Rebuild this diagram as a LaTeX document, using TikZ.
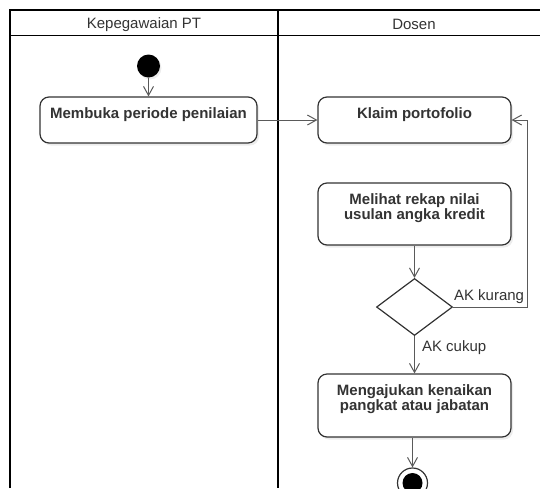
\documentclass[tikz,border=0pt]{standalone}
\usepackage{fontspec}
\setmainfont{Liberation Sans}
\usetikzlibrary{arrows.meta,shapes.geometric,shadows}
\definecolor{ink}{HTML}{333333}
\definecolor{wire}{HTML}{5A5A5A}
\tikzstyle{lane}=[draw=black,line width=1.8pt]
\tikzstyle{lanehead}=[text=ink,inner sep=0pt]
\tikzstyle{activity}=[draw=ink,line width=1.2pt,rounded corners=9pt,fill=white,inner sep=0pt,font=\fontsize{15}{15}\selectfont\bfseries,text=ink,drop shadow={shadow xshift=2pt,shadow yshift=-2.5pt,opacity=0.15}]
\tikzstyle{decision}=[diamond,draw=ink,line width=1.2pt,fill=white,inner sep=0pt,minimum width=76pt,minimum height=57pt]
\tikzstyle{initial}=[circle,fill=black,inner sep=0pt,minimum size=23pt,drop shadow={shadow xshift=1.5pt,shadow yshift=-2pt,opacity=0.15}]
\tikzstyle{final}=[circle,draw=ink,line width=1.2pt,fill=white,inner sep=0pt,minimum size=30pt,path picture={\fill[black] (path picture bounding box.center) circle (10pt);}]
\tikzstyle{flow}=[draw=wire,line width=1pt,-{Straight Barb[length=9pt,width=10pt]}]
\tikzstyle{guard}=[text=ink,inner sep=3pt]
% text sits at the top of each activity box
\newcommand{\acttext}[3]{\parbox[c][#2][t]{#1}{\centering\rule{0pt}{21.5pt}#3}}

\begin{document}
\begin{tikzpicture}[x=1pt,y=-1pt,font=\fontsize{15}{15}\selectfont]
\useasboundingbox (0,0) rectangle (540,488);
\clip (0,0) rectangle (540,488);

% swimlanes
\draw[lane] (10,488) -- (10,10) -- (540,10);
\draw[lane] (10,35.5) -- (540,35.5);
\draw[lane] (278,10) -- (278,488);
\node[lanehead] (kepeg) at (144,24.5) {Kepegawaian PT};
\node[lanehead] (dosen) at (414,24.5) {Dosen};

\path (148.5,66) node[initial] (awal) {}
    ++ (0,54) node[activity] (buka) {\acttext{217pt}{46pt}{Membuka periode penilaian}};

\path (414.5,120) node[activity] (klaim) {\acttext{193pt}{46pt}{Klaim portofolio}}
    ++ (0,94) node[activity] (rekap) {\acttext{193pt}{62pt}{Melihat rekap nilai\\usulan angka kredit}}
    ++ (0,93) node[decision] (cek) {}
    ++ (0,98.5) node[activity] (ajukan) {\acttext{193pt}{63pt}{Mengajukan kenaikan\\pangkat atau jabatan}}
    ++ (-2,77.5) node[final] (akhir) {};

\draw[flow] (awal) -- (buka);
\draw[flow] (buka) -- (klaim);
\draw[flow] (rekap) -- (cek);
\draw[flow] (cek) -- node[guard,right,pos=0.3,xshift=4pt] {AK cukup} (ajukan);
\draw[flow] (cek.east) -| node[guard,above left,pos=0.5] {AK kurang} ([xshift=16pt]klaim.east) -- (klaim.east);
\draw[flow] (akhir |- ajukan.south) -- (akhir);
\end{tikzpicture}
\end{document}
